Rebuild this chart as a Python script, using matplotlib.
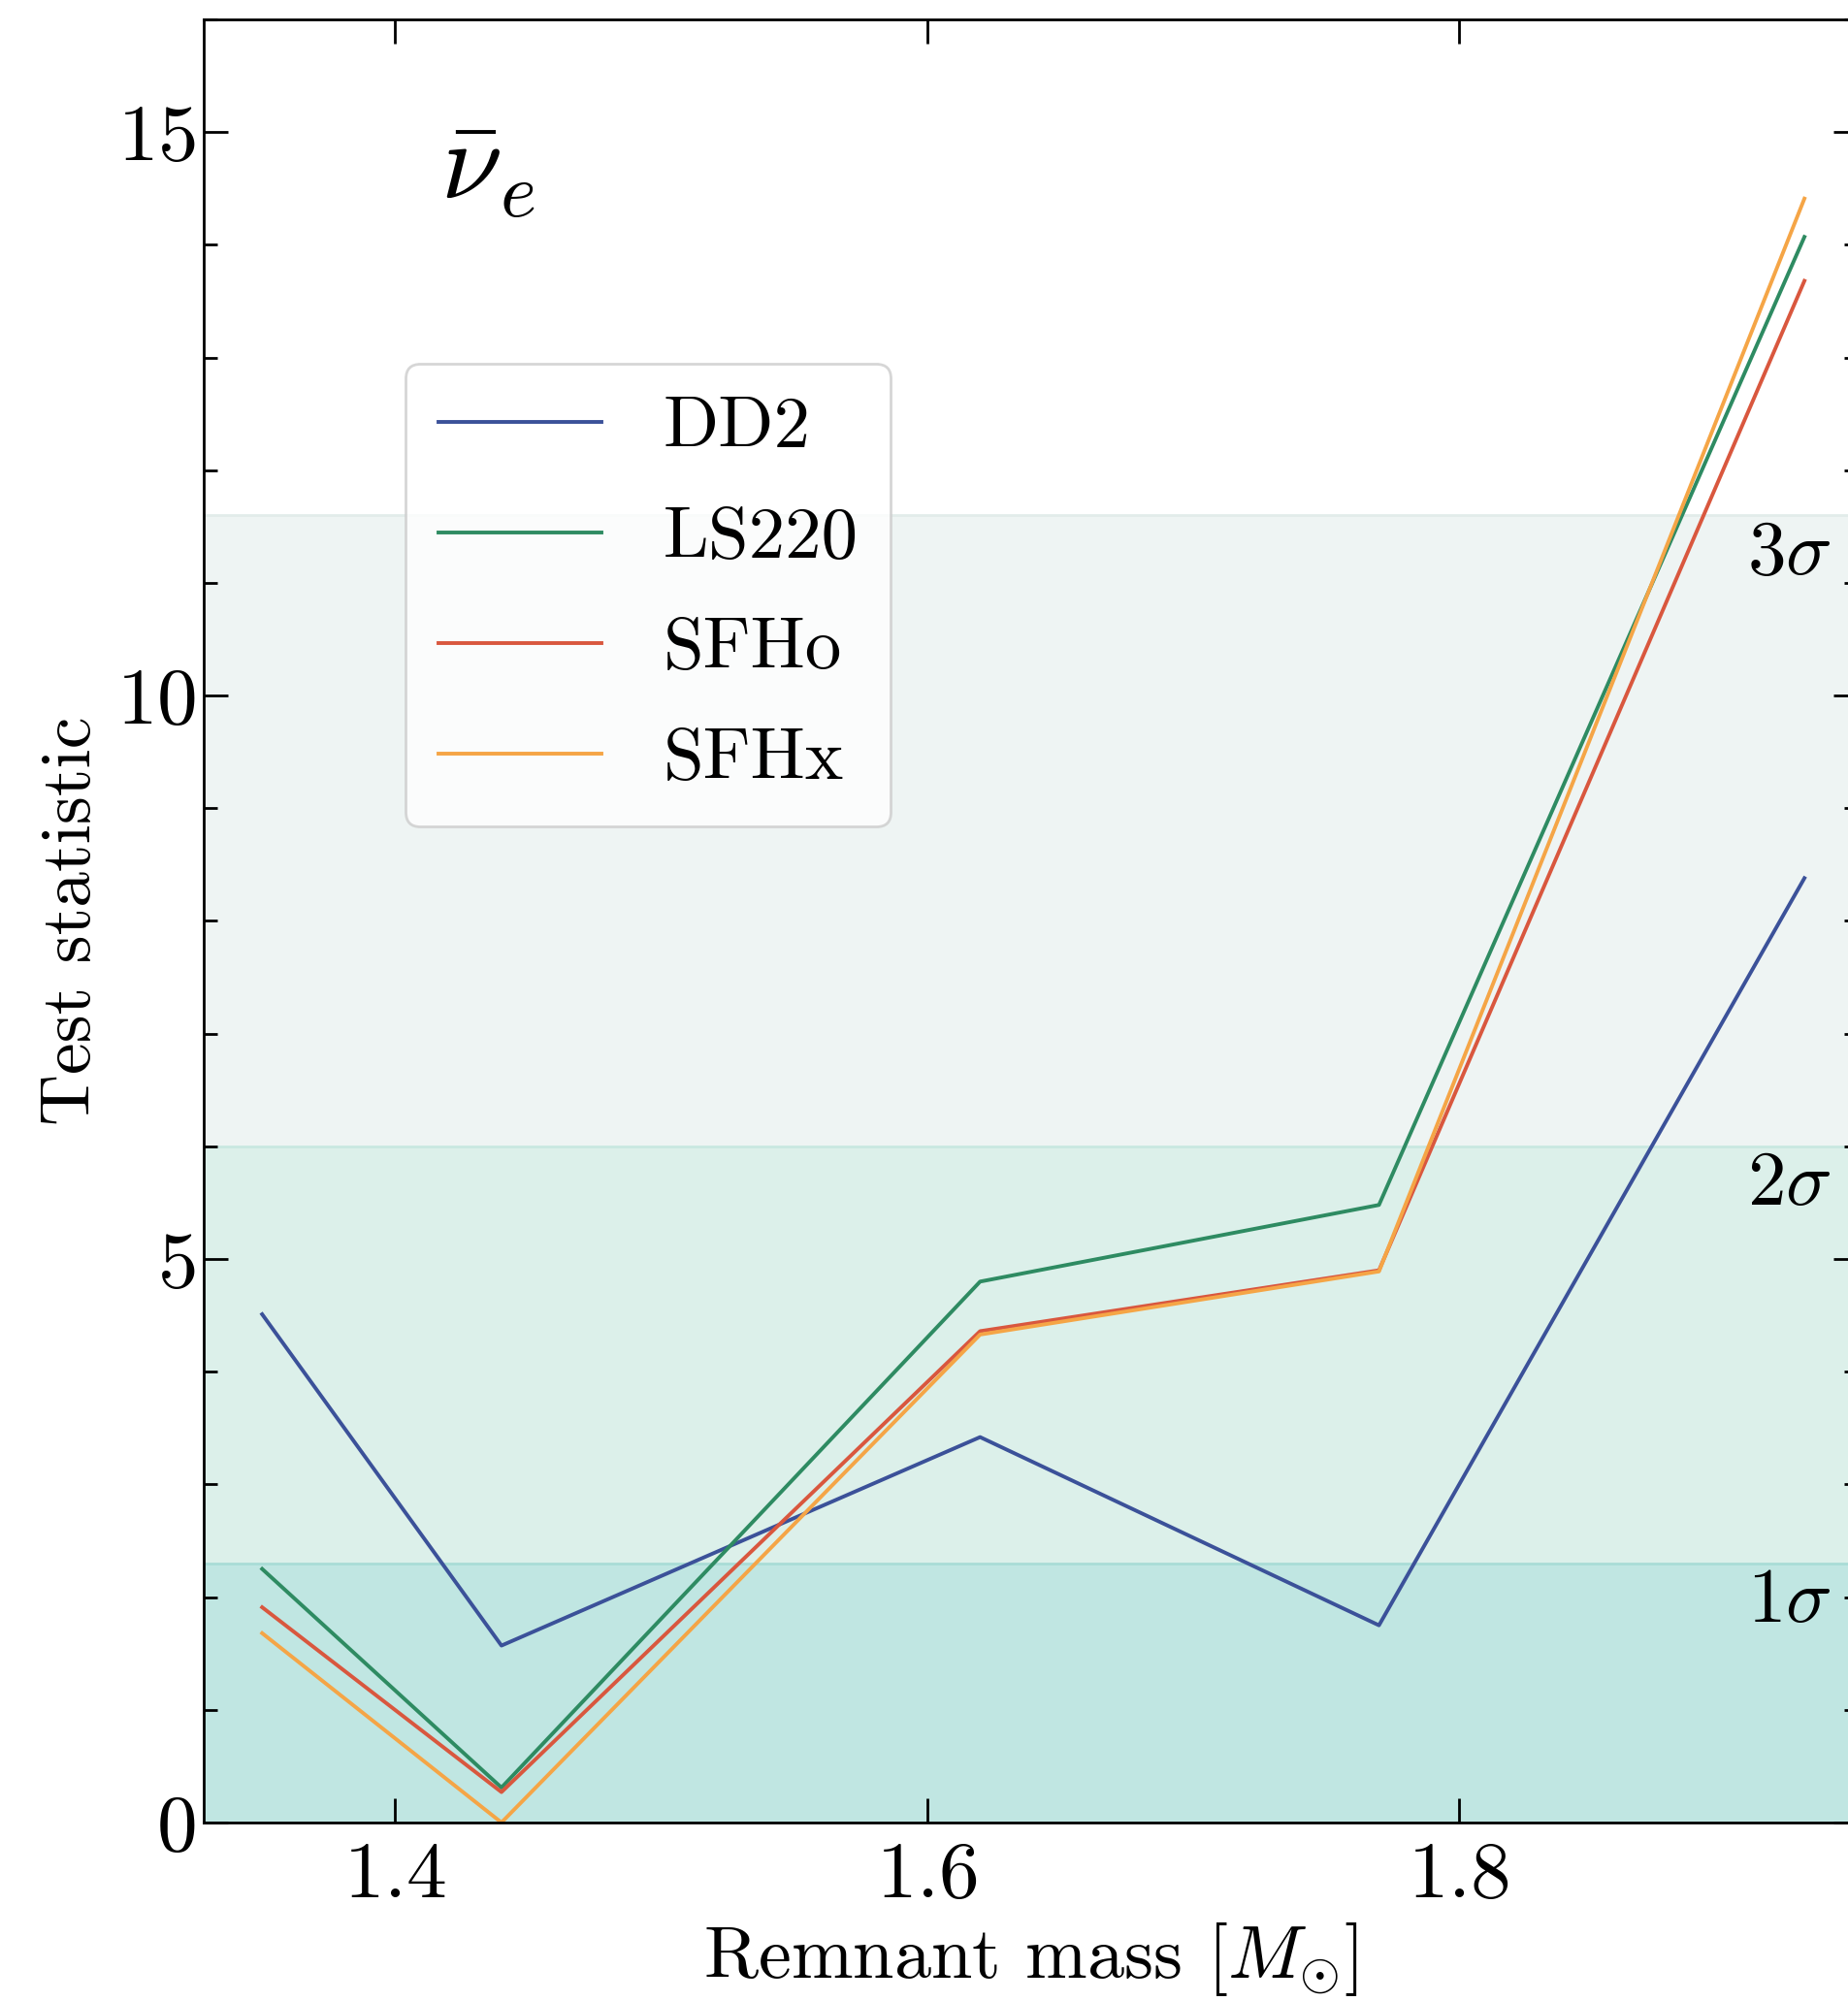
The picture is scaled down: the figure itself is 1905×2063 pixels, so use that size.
import numpy as np
import matplotlib
matplotlib.use("Agg")
import matplotlib.pyplot as plt
from matplotlib.ticker import MultipleLocator

plt.rcParams['font.family'] = 'serif'
plt.rcParams['font.serif'] = ['cmr10']
plt.rcParams['mathtext.fontset'] = 'cm'
plt.rcParams['axes.formatter.use_mathtext'] = True

# remnant masses and test statistic per EOS
mass = [1.35, 1.44, 1.62, 1.77, 1.93]
dd2 = [4.51, 1.57, 3.42, 1.75, 8.38]
ls220 = [2.25, 0.31, 4.80, 5.48, 14.07]
sfho = [1.91, 0.27, 4.36, 4.90, 13.68]
sfhx = [1.68, 0.0, 4.33, 4.89, 14.41]

labels = ['DD2', 'LS220', 'SFHo', 'SFHx']
colors = ['#3b5199', '#2e8b62', '#d9573e', '#f5a546']

# confidence levels
sigma_levels = [2.30, 6.0, 11.6]
sigma_names = [r'$1\sigma$', r'$2\sigma$', r'$3\sigma$']
band_colors = ['#c0e6e2', '#dcf0ea', '#eef4f3']
edge_colors = ['#a9dcd6', '#c8e8e1', '#e2ecea']

fig = plt.figure(figsize=(19.05, 20.63), dpi=100)
ax = fig.add_axes([0.1102, 0.0892, 0.895, 0.9011])

lo = 0
for lev, bc, ec in zip(sigma_levels, band_colors, edge_colors):
    ax.axhspan(lo, lev, color=bc, lw=0, zorder=0)
    ax.axhline(lev, color=ec, lw=2, zorder=0.5)
    lo = lev

for ys, lab, c in zip([dd2, ls220, sfho, sfhx], labels, colors):
    ax.plot(mass, ys, color=c, lw=2.8, label=lab, zorder=2)

for lev, name in zip(sigma_levels, sigma_names):
    ax.text(1.94, lev - 0.35, name, ha='right', va='center', fontsize=57)

ax.text(0.172, 0.916, r'$\bar{\nu}_e$', transform=ax.transAxes,
        ha='center', va='center', fontsize=82)

ax.set_xlim(1.328, 1.95)
ax.set_ylim(0, 16)
ax.xaxis.set_major_locator(MultipleLocator(0.2))
ax.yaxis.set_major_locator(MultipleLocator(5))
ax.yaxis.set_minor_locator(MultipleLocator(1))
ax.tick_params(which='both', direction='in', top=True, right=True, width=2)
ax.tick_params(which='major', length=18, labelsize=60, pad=14)
ax.tick_params(axis='y', which='major', pad=6)
ax.tick_params(which='minor', length=10)
for s in ax.spines.values():
    s.set_linewidth(2)

ax.set_xlabel(r'Remnant mass $[M_{\odot}]$', fontsize=55, labelpad=6)
ax.set_ylabel('Test statistic', fontsize=53, labelpad=9)

leg = ax.legend(loc='upper left', bbox_to_anchor=(0.122, 0.809), borderaxespad=0,
                fontsize=54, handlelength=2.24, handletextpad=0.85, labelspacing=0.62,
                borderpad=0.45, fancybox=True)
leg.get_frame().set_linewidth(2)

fig.savefig('out.png', dpi=100)
